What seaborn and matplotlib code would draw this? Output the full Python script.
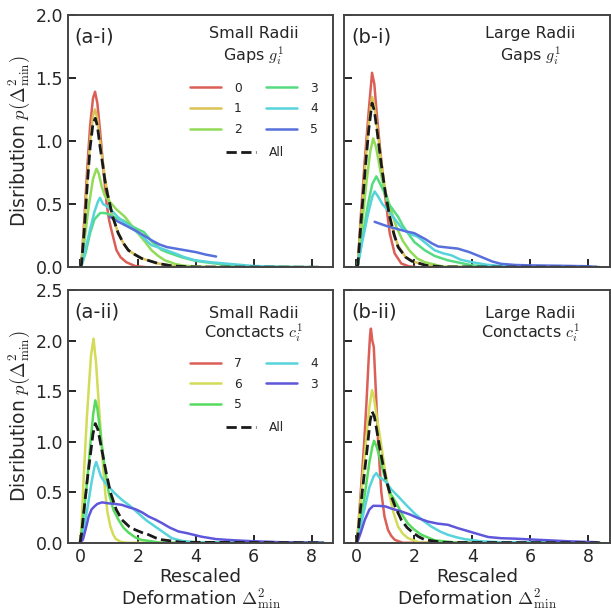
import matplotlib
matplotlib.use("Agg")
import matplotlib.pyplot as plt
import seaborn as sns

# ---- data ----
# (a-i) small radii, gaps g_i^1
gap_labels = ["0", "1", "2", "3", "4", "5"]
small_gap_x = [
    [0, 0.05, 0.15, 0.25, 0.35, 0.45, 0.52, 0.6, 0.69, 0.8, 0.92, 1.0, 1.09, 1.26, 1.4, 1.6, 1.9, 2.3, 8.4],
    [0, 0.05, 0.15, 0.25, 0.35, 0.45, 0.52, 0.6, 0.69, 0.78, 0.86, 0.95, 1.03, 1.13, 1.32, 1.5, 1.67,
     1.9, 2.13, 2.7, 3.2, 4.0, 8.4],
    [0, 0.05, 0.15, 0.3, 0.45, 0.57, 0.65, 0.75, 0.85, 0.98, 1.1, 1.25, 1.4, 1.55, 1.75, 2.0, 2.25,
     2.47, 2.7, 2.93, 3.3, 3.6, 4.5, 8.4],
    [0, 0.05, 0.2, 0.35, 0.5, 0.7, 0.85, 1.0, 1.25, 1.5, 1.75, 2.0, 2.2, 2.5, 2.8, 3.0, 3.5, 4.0,
     5.0, 6.0, 8.4],
    [0, 0.05, 0.2, 0.35, 0.5, 0.62, 0.69, 0.8, 0.95, 1.09, 1.3, 1.5, 1.8, 2.13, 2.3, 2.47, 2.8, 3.28,
     3.6, 3.97, 4.5, 5.0, 6.0, 7.0, 8.4],
    [1.03, 1.25, 1.5, 1.75, 2.0, 2.25, 2.5, 2.75, 3.0, 3.5, 4.0, 4.35, 4.7],
]
small_gap_y = [
    [0, 0.02, 0.38, 0.78, 1.12, 1.34, 1.39, 1.3, 1.09, 0.8, 0.5, 0.38, 0.29, 0.135, 0.08, 0.04, 0.01, 0, 0],
    [0, 0.02, 0.32, 0.68, 1.0, 1.2, 1.25, 1.18, 1.0, 0.85, 0.71, 0.59, 0.5, 0.4, 0.27, 0.19, 0.135,
     0.1, 0.07, 0.03, 0.01, 0.002, 0],
    [0, 0.01, 0.2, 0.48, 0.7, 0.78, 0.74, 0.64, 0.57, 0.53, 0.5, 0.46, 0.43, 0.40, 0.34, 0.27, 0.2,
     0.135, 0.09, 0.055, 0.025, 0.012, 0, 0],
    [0, 0.01, 0.12, 0.27, 0.38, 0.43, 0.43, 0.42, 0.39, 0.37, 0.33, 0.3, 0.28, 0.2, 0.14, 0.12, 0.08,
     0.05, 0.02, 0.005, 0],
    [0, 0.01, 0.15, 0.3, 0.44, 0.52, 0.55, 0.5, 0.48, 0.45, 0.4, 0.36, 0.31, 0.25, 0.21, 0.175, 0.15,
     0.11, 0.08, 0.056, 0.04, 0.03, 0.01, 0.003, 0],
    [0.40, 0.37, 0.34, 0.31, 0.28, 0.245, 0.21, 0.18, 0.16, 0.14, 0.12, 0.1, 0.085],
]
small_gap_all_x = [0, 0.05, 0.15, 0.25, 0.35, 0.45, 0.53, 0.6, 0.69, 0.78, 0.86, 0.95, 1.03, 1.13,
                   1.32, 1.5, 1.67, 1.9, 2.13, 2.7, 3.2, 4.0, 8.4]
small_gap_all_y = [0, 0.02, 0.3, 0.65, 0.95, 1.14, 1.18, 1.12, 0.96, 0.82, 0.69, 0.58, 0.5, 0.4,
                   0.27, 0.19, 0.135, 0.1, 0.07, 0.03, 0.01, 0.002, 0]

# (b-i) large radii, gaps
large_gap_x = [
    [0, 0.05, 0.15, 0.29, 0.43, 0.54, 0.62, 0.69, 0.81, 0.98, 1.15, 1.32, 1.55, 1.8, 2.1, 8.4],
    [0, 0.05, 0.15, 0.3, 0.43, 0.54, 0.62, 0.72, 0.85, 1.0, 1.15, 1.3, 1.44, 1.7, 1.9, 2.4, 3.0, 8.4],
    [0, 0.05, 0.2, 0.35, 0.48, 0.58, 0.68, 0.8, 0.9, 1.0, 1.2, 1.38, 1.6, 1.84, 2.1, 2.36, 3.0, 8.4],
    [0, 0.05, 0.2, 0.4, 0.55, 0.69, 0.8, 0.95, 1.09, 1.25, 1.44, 1.6, 1.78, 2.0, 2.36, 2.7, 3.16,
     4.0, 5.0, 8.4],
    [0, 0.05, 0.2, 0.4, 0.55, 0.63, 0.75, 0.9, 1.09, 1.3, 1.5, 1.67, 1.9, 2.13, 2.4, 2.7, 3.0, 3.28,
     3.6, 4.0, 4.5, 4.9, 6.0, 8.4],
    [0.63, 1.0, 1.3, 1.7, 2.0, 2.2, 2.4, 2.6, 2.82, 3.2, 3.5, 3.9, 4.31, 4.7, 5.0, 5.5, 6.0, 7.0,
     8.0, 8.3],
]
large_gap_y = [
    [0, 0.02, 0.4, 0.85, 1.25, 1.54, 1.45, 1.25, 0.955, 0.585, 0.27, 0.11, 0.03, 0.008, 0, 0],
    [0, 0.02, 0.35, 0.8, 1.15, 1.35, 1.28, 1.1, 0.85, 0.6, 0.4, 0.26, 0.17, 0.08, 0.05, 0.015, 0, 0],
    [0, 0.02, 0.35, 0.68, 0.92, 1.02, 0.95, 0.8, 0.68, 0.6, 0.45, 0.32, 0.21, 0.13, 0.07, 0.04, 0.005, 0],
    [0, 0.02, 0.22, 0.5, 0.66, 0.72, 0.67, 0.6, 0.51, 0.46, 0.40, 0.33, 0.27, 0.2, 0.135, 0.09, 0.055,
     0.015, 0, 0],
    [0, 0.02, 0.2, 0.42, 0.56, 0.60, 0.56, 0.5, 0.45, 0.39, 0.33, 0.29, 0.26, 0.24, 0.19, 0.135, 0.11,
     0.095, 0.06, 0.04, 0.02, 0.012, 0.003, 0],
    [0.36, 0.33, 0.31, 0.285, 0.27, 0.245, 0.22, 0.19, 0.165, 0.155, 0.148, 0.12, 0.082, 0.045, 0.027,
     0.018, 0.015, 0.012, 0.008, 0.003],
]
large_gap_all_x = [0, 0.05, 0.15, 0.3, 0.43, 0.54, 0.62, 0.72, 0.85, 1.0, 1.15, 1.3, 1.44, 1.7, 1.9,
                   2.4, 3.0, 8.4]
large_gap_all_y = [0, 0.02, 0.33, 0.77, 1.1, 1.30, 1.24, 1.07, 0.83, 0.59, 0.4, 0.26, 0.16, 0.08, 0.05,
                   0.015, 0.003, 0]

# (a-ii) small radii, contacts c_i^1
contact_labels = ["7", "6", "5", "4", "3"]
small_con_x = [
    [],
    [0, 0.05, 0.12, 0.24, 0.32, 0.38, 0.43, 0.47, 0.51, 0.55, 0.62, 0.68, 0.74, 0.8, 0.87, 0.95, 1.05,
     1.15, 1.23, 1.4, 1.6, 8.4],
    [0, 0.05, 0.13, 0.21, 0.3, 0.38, 0.46, 0.53, 0.6, 0.67, 0.74, 0.85, 0.99, 1.15, 1.33, 1.5, 1.68,
     1.9, 2.1, 2.8, 8.4],
    [0, 0.05, 0.15, 0.25, 0.4, 0.5, 0.56, 0.63, 0.72, 0.85, 0.99, 1.2, 1.45, 1.75, 2.02, 2.3, 2.6, 2.9,
     3.17, 3.5, 4.0, 8.4],
    [0, 0.1, 0.2, 0.3, 0.4, 0.5, 0.6, 0.76, 1.0, 1.2, 1.45, 1.7, 1.91, 2.15, 2.37, 2.6, 2.83, 3.1, 3.4,
     3.68, 4.2, 4.71, 5.3, 6.0, 7.0, 8.4],
]
small_con_y = [
    [],
    [0, 0.15, 0.6, 1.25, 1.6, 1.85, 1.95, 2.02, 1.9, 1.8, 1.5, 1.25, 1.0, 0.75, 0.5, 0.3, 0.16,
     0.08, 0.04, 0.01, 0, 0],
    [0, 0.08, 0.3, 0.5, 0.78, 1.05, 1.28, 1.41, 1.33, 1.17, 1.0, 0.75, 0.5, 0.33, 0.227, 0.15, 0.1,
     0.055, 0.03, 0, 0],
    [0, 0.03, 0.17, 0.33, 0.6, 0.75, 0.80, 0.74, 0.66, 0.6, 0.556, 0.49, 0.425, 0.36, 0.29, 0.22, 0.16,
     0.1, 0.046, 0.02, 0.005, 0],
    [0, 0.03, 0.14, 0.26, 0.33, 0.36, 0.385, 0.40, 0.39, 0.385, 0.375, 0.35, 0.333, 0.3, 0.26, 0.23,
     0.195, 0.15, 0.112, 0.096, 0.06, 0.036, 0.025, 0.015, 0.005, 0],
]
small_con_all_x = [0, 0.05, 0.15, 0.25, 0.35, 0.45, 0.53, 0.62, 0.7, 0.8, 0.9, 1.05, 1.25, 1.45, 1.7,
                   1.91, 2.15, 2.37, 2.6, 2.83, 3.5, 8.4]
small_con_all_y = [0, 0.08, 0.35, 0.62, 0.85, 1.08, 1.18, 1.12, 1.0, 0.85, 0.7, 0.5, 0.33, 0.227, 0.16,
                   0.128, 0.1, 0.08, 0.05, 0.03, 0.005, 0]

# (b-ii) large radii, contacts
large_con_x = [
    [0, 0.05, 0.15, 0.27, 0.35, 0.42, 0.47, 0.5, 0.55, 0.6, 0.68, 0.75, 0.86, 0.97, 1.09, 1.2, 1.32,
     1.6, 8.4],
    [0, 0.05, 0.17, 0.33, 0.45, 0.54, 0.6, 0.7, 0.84, 0.98, 1.12, 1.28, 1.44, 1.6, 1.78, 2.2, 8.4],
    [0, 0.05, 0.25, 0.45, 0.55, 0.61, 0.7, 0.8, 0.95, 1.15, 1.3, 1.44, 1.6, 1.78, 2.0, 2.24, 2.7,
     3.5, 8.4],
    [0, 0.05, 0.25, 0.45, 0.6, 0.69, 0.78, 0.9, 1.03, 1.2, 1.44, 1.7, 2.01, 2.3, 2.59, 2.9, 3.16,
     3.45, 3.74, 4.3, 5.0, 8.4],
    [0, 0.05, 0.15, 0.29, 0.45, 0.58, 0.8, 1.0, 1.25, 1.55, 1.85, 2.13, 2.47, 2.8, 3.16, 3.5, 3.8,
     4.08, 4.55, 5.0, 5.46, 6.0, 6.6, 7.3, 8.0, 8.3],
]
large_con_y = [
    [0, 0.1, 0.5, 1.0, 1.4, 1.8, 2.05, 2.12, 2.0, 1.94, 1.45, 1.0, 0.5, 0.26, 0.128, 0.07, 0.03, 0, 0],
    [0, 0.1, 0.5, 1.0, 1.35, 1.51, 1.45, 1.25, 1.0, 0.73, 0.5, 0.3, 0.16, 0.09, 0.046, 0, 0],
    [0, 0.06, 0.4, 0.8, 0.95, 1.01, 0.95, 0.85, 0.68, 0.5, 0.43, 0.36, 0.27, 0.19, 0.13, 0.08, 0.025,
     0, 0],
    [0, 0.04, 0.3, 0.55, 0.66, 0.69, 0.65, 0.63, 0.6, 0.53, 0.46, 0.38, 0.29, 0.22, 0.16, 0.11, 0.079,
     0.055, 0.036, 0.015, 0.005, 0],
    [0, 0.02, 0.1, 0.227, 0.33, 0.366, 0.365, 0.36, 0.335, 0.31, 0.28, 0.244, 0.21, 0.19, 0.178, 0.145,
     0.12, 0.096, 0.057, 0.045, 0.041, 0.033, 0.025, 0.015, 0.008, 0.005],
]
large_con_all_x = [0, 0.05, 0.2, 0.38, 0.47, 0.54, 0.62, 0.7, 0.8, 0.9, 1.02, 1.15, 1.35, 1.55, 1.75,
                   1.95, 2.15, 2.36, 3.0, 8.4]
large_con_all_y = [0, 0.08, 0.5, 0.95, 1.2, 1.30, 1.25, 1.12, 0.95, 0.8, 0.63, 0.5, 0.35, 0.227, 0.15,
                   0.1, 0.06, 0.03, 0.003, 0]

# ---- style ----
sns.set_theme(style="ticks")
plt.rcParams.update({
    "mathtext.fontset": "cm",
    "xtick.direction": "in",
    "ytick.direction": "in",
    "xtick.major.size": 6,
    "ytick.major.size": 6,
    "axes.linewidth": 1.4,
    "xtick.major.width": 1.4,
    "ytick.major.width": 1.4,
})

gap_colors = sns.color_palette("hls", 8)[:6]
con_colors = sns.color_palette("hls", 6)[:5]

fig, axes = plt.subplots(2, 2, figsize=(6.11, 6.14), dpi=100, sharex=True)
plt.subplots_adjust(left=0.111, right=0.998, top=0.976, bottom=0.116, wspace=0.041, hspace=0.091)

panels = [
    (axes[0, 0], small_gap_x, small_gap_y, small_gap_all_x, small_gap_all_y, gap_labels, gap_colors,
     "(a-i)", "Small Radii", r"Gaps $g_i^1$"),
    (axes[0, 1], large_gap_x, large_gap_y, large_gap_all_x, large_gap_all_y, gap_labels, gap_colors,
     "(b-i)", "Large Radii", r"Gaps $g_i^1$"),
    (axes[1, 0], small_con_x, small_con_y, small_con_all_x, small_con_all_y, contact_labels, con_colors,
     "(a-ii)", "Small Radii", r"Conctacts $c_i^1$"),
    (axes[1, 1], large_con_x, large_con_y, large_con_all_x, large_con_all_y, contact_labels, con_colors,
     "(b-ii)", "Large Radii", r"Conctacts $c_i^1$"),
]

for i, (ax, xs, ys, ax_all, ay_all, labels, colors, tag, line1, line2) in enumerate(panels):
    handles = []
    for x, y, lab, c in zip(xs, ys, labels, colors):
        if len(x) == 0:
            h, = ax.plot([], [], color=c, lw=1.8, label=lab)
        else:
            sns.lineplot(x=x, y=y, ax=ax, color=c, lw=1.8, label=lab, sort=False)
            h = ax.get_lines()[-1]
        handles.append(h)
    sns.lineplot(x=ax_all, y=ay_all, ax=ax, color="k", lw=2, ls="--", label="All", sort=False)
    h_all = ax.get_lines()[-1]

    ax.set_xlim(-0.42, 8.75)
    ax.set_xticks([0, 2, 4, 6, 8])
    row = i // 2
    if row == 0:
        ax.set_ylim(0, 2.0)
        ax.set_yticks([0, 0.5, 1.0, 1.5, 2.0])
    else:
        ax.set_ylim(0, 2.5)
        ax.set_yticks([0, 0.5, 1.0, 1.5, 2.0, 2.5])
    ax.tick_params(labelsize=12.5, top=False, right=False)
    for s in ax.spines.values():
        s.set_color("#444444")

    if i % 2 == 0:
        ax.set_ylabel(r"Disribution $p(\Delta^2_{\min})$", fontsize=13.5)
        ax.yaxis.set_label_coords(-0.135, 0.5)
    else:
        ax.set_ylabel("")
        ax.tick_params(labelleft=False)
    if row == 1:
        ax.set_xlabel("Rescaled\n" + r"Deformation $\Delta^2_{\min}$", fontsize=13.2,
                      linespacing=1.0, labelpad=2)
    else:
        ax.set_xlabel("")
        ax.tick_params(labelbottom=False)

    ax.text(0.025, 0.912, tag, transform=ax.transAxes, fontsize=14, va="center", ha="left")
    ax.text(0.70, 0.926 - 0.018 * row, line1, transform=ax.transAxes, fontsize=11.5, va="center", ha="center")
    ax.text(0.70, 0.836 - 0.004 * row, line2, transform=ax.transAxes, fontsize=11.5, va="center", ha="center")

    if i % 2 == 0:
        leg = ax.legend(handles=handles, loc="upper left", bbox_to_anchor=(0.46, 0.735),
                        ncol=2, frameon=False, fontsize=8.8, handlelength=2.5,
                        handletextpad=1.1, columnspacing=2.0, labelspacing=0.62,
                        borderpad=0, borderaxespad=0)
        ax.add_artist(leg)
        ax.legend(handles=[h_all], loc="center left", bbox_to_anchor=(0.595, 0.455),
                  frameon=False, fontsize=8.8, handlelength=2.5, handletextpad=1.0,
                  borderpad=0, borderaxespad=0)
    else:
        lg = ax.get_legend()
        if lg is not None:
            lg.remove()

plt.savefig("out.png", dpi=100)
